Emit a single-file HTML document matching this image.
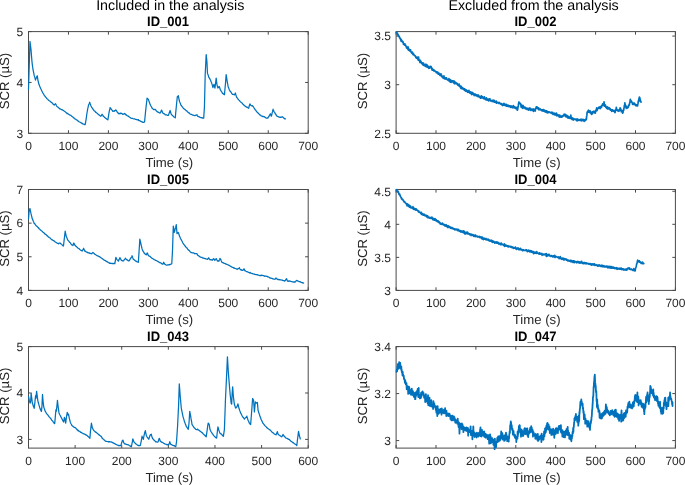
<!DOCTYPE html><html><head><meta charset="utf-8"><style>
html,body{margin:0;padding:0;background:#fff;}
svg{display:block;will-change:transform;}
text{font-family:"Liberation Sans",sans-serif;text-rendering:geometricPrecision;}
</style></head><body>
<svg width="685" height="485" viewBox="0 0 685 485">
<rect width="685" height="485" fill="#fff"/>
<rect x="28.5" y="31.6" width="279.7" height="101.7" fill="none" stroke="#4a4a4a" stroke-width="1"/>
<path d="M28.5,133.3v-3.1M28.5,31.6v3.1M68.46,133.3v-3.1M68.46,31.6v3.1M108.41,133.3v-3.1M108.41,31.6v3.1M148.37,133.3v-3.1M148.37,31.6v3.1M188.33,133.3v-3.1M188.33,31.6v3.1M228.29,133.3v-3.1M228.29,31.6v3.1M268.24,133.3v-3.1M268.24,31.6v3.1M308.2,133.3v-3.1M308.2,31.6v3.1M28.5,133.3h3.1M308.2,133.3h-3.1M28.5,82.45h3.1M308.2,82.45h-3.1M28.5,31.6h3.1M308.2,31.6h-3.1" stroke="#4a4a4a" stroke-width="1" fill="none"/>
<polyline points="28.5,89.44 29.3,63.73 29.99,41.49 30.1,42.21 30.9,48.71 30.99,49.42 31.7,58.36 31.99,61.84 32.5,65.97 32.99,69.33 33.3,70.94 34.1,74.84 34.24,75.7 34.9,77.62 35.49,80.06 35.7,79.24 36.48,77.4 36.5,77.32 37.23,75.78 37.3,75.87 37.98,80.67 38.1,80.83 38.9,84.25 38.98,84.32 39.7,86.28 40.48,88.1 40.5,88.28 41.3,89.72 42.1,91.63 42.23,91.66 42.9,93.09 43.7,94.16 44.5,95.79 44.72,95.79 45.3,96.74 46.1,97.47 46.9,98.79 47.7,99.16 48.47,100.24 48.5,100.09 49.3,100.82 50.1,101.3 50.9,102.11 51.7,102.48 52.21,103.16 52.5,103.24 53.3,104.3 54.1,104.58 54.21,105.07 54.9,104.12 55.46,103.68 55.7,103.89 56.5,105.72 56.71,106.07 57.3,106.76 58.1,107.28 58.9,108.1 59.7,108.77 59.7,108.97 60.5,108.95 61.3,109.55 62.1,109.65 62.2,109.84 62.9,110.15 63.7,110.76 64.5,111.2 64.69,111.4 65.3,111.81 66.1,112.63 66.9,113.16 67.19,113.62 67.7,113.45 68.5,114.29 69.3,114.65 70.1,115.21 70.9,115.46 70.93,115.61 71.7,116.15 72.5,116.81 73.3,117.37 74.1,118.26 74.68,118.41 74.9,118.93 75.7,119.24 76.5,119.98 77.3,120.07 78.1,121.27 78.42,121.07 78.9,121.76 79.7,122.03 80.5,122.56 81.3,122.79 82.1,123.54 82.17,123.37 82.9,123.88 83.7,124.07 84.5,124.61 85.16,124.56 85.3,124.18 85.91,120.33 86.1,119.37 86.9,113.52 87.16,111.99 87.7,108.9 88.41,105.81 88.5,105.32 89.3,103.48 89.66,102.24 90.1,103.57 90.41,104.18 90.9,105.78 91.4,106.8 91.7,107.42 92.5,108.44 93.3,109.7 93.4,109.76 94.1,110.64 94.9,111.22 95.7,112.24 95.9,112.11 96.5,112.97 97.3,113.24 98.1,114.28 98.89,114.65 98.9,114.97 99.7,115.41 100.5,116.01 100.89,116.27 101.3,115.66 102.1,114.23 102.14,114.5 102.9,115.36 103.39,116.39 103.7,116.46 104.5,117.4 105.3,117.8 105.38,118.15 106.1,118.47 106.9,119.23 107.7,119.65 107.88,119.85 108.5,115.81 109.13,112.11 109.3,111.06 110.1,107.83 110.13,107.5 110.9,108.76 111.38,109.27 111.7,109.87 112.5,110.58 112.62,111.26 113.3,111 114.1,111.33 114.62,110.7 114.9,110.89 115.7,109.97 115.87,109.95 116.5,110.81 117.12,111.94 117.3,111.99 118.1,112.99 118.86,113.8 118.9,113.92 119.7,113.33 120.5,113.59 120.86,112.99 121.3,113.4 122.1,113.75 122.86,114.46 122.9,114.19 123.7,114.22 124.5,113.51 124.61,113.59 125.3,114.1 125.85,114.96 126.1,114.75 126.9,115.58 127.7,115.79 128.35,116.34 128.5,116.3 129.3,117.05 130.1,117.51 130.85,118.11 130.9,118.04 131.7,118.42 132.5,118.42 133.3,118.79 133.34,118.78 134.1,118.98 134.9,118.92 135.7,119.43 135.84,119.27 136.5,119.64 137.3,119.73 138.1,120.09 138.34,119.65 138.9,120.56 139.7,120.52 140.5,121.21 140.83,121.27 141.3,121.63 142.1,121.84 142.9,122.47 143.33,122.38 143.7,122.43 144.5,121.68 144.58,121.93 145.3,114.22 145.82,109.35 146.1,106.49 146.9,99.81 147.07,98.09 147.7,98.74 148.32,99.17 148.5,99.84 149.3,102.04 150.07,104.34 150.1,104.28 150.9,105.98 151.7,107.16 152.07,108.37 152.5,108.42 153.3,109.31 153.81,109.61 154.1,109.8 154.9,109.33 155.31,109.59 155.7,109.85 156.31,111.07 156.5,110.92 157.3,111.84 158.1,111.97 158.31,112.35 158.9,112.43 159.7,113.01 160.3,112.99 160.5,112.72 161.3,110.48 161.55,110.06 162.1,111.23 162.8,113.11 162.9,113 163.7,113.64 164.5,113.95 165.3,114.93 165.8,114.8 166.1,114.93 166.9,114.93 167.7,115.43 168.29,115.46 168.5,115.1 169.3,112.68 170.04,110.61 170.1,110.53 170.9,113.25 171.29,114.29 171.7,114.73 172.5,115.46 173.28,116.35 173.3,116.29 174.1,117.17 174.9,117.27 175.28,117.9 175.7,112.91 176.28,106.97 176.5,104.64 177.28,97.01 177.3,96.67 178.1,96.14 178.28,95.6 178.9,98.69 179.28,100.55 179.7,101.88 180.5,103.78 180.77,104.83 181.3,105.44 182.1,106.65 182.9,107.51 183.27,108.18 183.7,108.44 184.5,109.26 185.3,109.78 186.1,110.69 186.9,110.87 187.01,111.43 187.7,111.85 188.5,112.77 189.3,112.96 190.1,114.02 190.76,114.24 190.9,114.4 191.7,114.46 192.5,115.1 193.3,115.11 194.1,115.46 194.5,115.53 194.9,115.67 195.7,115.18 196.5,115.06 197,114.76 197.3,115.85 197.46,115.99 198.1,116.56 198.9,116.6 199.7,117.22 199.96,117.24 200.5,117.52 201.3,117.59 202.1,118.08 202.45,117.9 202.9,118.15 203.7,117.96 203.7,118.1 204.45,106.81 204.5,104.81 205.2,74.31 205.3,72.55 206.1,56.35 206.2,54.52 206.9,61.4 206.95,61.96 207.45,73.04 207.7,73.9 208.5,76.08 208.69,77.15 209.3,77.9 210.1,79.35 210.44,79.85 210.9,81.18 211.7,83.02 211.94,83.92 212.5,85.76 212.94,87.7 213.3,86.19 213.94,84.45 214.1,84.8 214.9,88.01 214.93,88.08 215.7,82.09 216.18,78.12 216.5,80.91 216.93,84.32 217.3,85.85 217.93,88 218.1,87.94 218.9,86.73 219.18,86.37 219.7,87.76 220.43,90.16 220.5,89.93 221.3,91.41 222.1,92.48 222.42,93.34 222.9,93.51 223.7,94.24 224.42,94.75 224.5,94.3 225.3,85.3 225.42,84.37 226.1,75.19 226.17,74.71 226.9,79.13 226.92,79.78 227.7,84.02 228.16,86.92 228.5,87.39 229.3,89.81 229.91,90.55 230.1,91.21 230.9,92.05 231.7,93.41 232.41,94.25 232.5,94.38 233.3,94.44 234.1,94.79 234.41,94.83 234.9,94.21 235.4,92.96 235.7,94.25 236.4,96.6 236.5,97.1 237.3,98.01 238.1,99.25 238.65,99.8 238.9,100.1 239.7,100.83 240.5,102.01 241.15,102.23 241.3,102.54 242.1,103.05 242.9,104.19 243.64,104.82 243.7,104.98 244.5,105.5 245.3,106.32 246.1,106.69 246.14,106.9 246.9,107.13 247.7,107.64 248.5,107.77 248.64,108.3 249.3,105.74 249.88,103.96 250.1,104.07 250.9,105.49 251.13,105.52 251.7,105.83 252.5,105.72 253.13,106.62 253.3,106.55 254.1,108.08 254.88,109.16 254.9,109.5 255.7,110.15 256.5,111.55 257.3,112.16 257.37,112.42 258.1,112.98 258.9,113.94 259.7,114.52 259.87,115.06 260.5,115.12 261.3,115.95 262.1,116.14 262.36,116.51 262.9,116.43 263.7,116.68 264.36,116.52 264.5,116.93 265.3,117.4 266.1,118.08 266.11,117.99 266.9,118.17 267.7,117.79 267.86,118.08 268.5,116.87 269.3,115.79 269.35,115.48 270.1,114.46 270.35,113.73 270.9,115.18 271.35,116.22 271.7,115.02 272.35,112.13 272.5,111.76 273.1,109.2 273.3,109.9 273.85,111.12 274.1,111.79 274.9,112.71 275.35,113.99 275.7,114.13 276.5,115.63 277.3,116.17 277.34,116.41 278.1,116.59 278.9,117.05 279.7,117.07 279.84,117.32 280.5,117.15 281.3,117.27 282.1,116.74 282.34,116.93 282.9,117.17 283.7,117.98 283.83,117.94 284.5,118.75 285.3,118.71 285.33,118.94" fill="none" stroke="#0072BD" stroke-width="1.25" stroke-linejoin="round" stroke-linecap="round"/>
<text x="28.5" y="149.7" font-size="12.0" fill="#262626" text-anchor="middle">0</text>
<text x="68.46" y="149.7" font-size="12.0" fill="#262626" text-anchor="middle">100</text>
<text x="108.41" y="149.7" font-size="12.0" fill="#262626" text-anchor="middle">200</text>
<text x="148.37" y="149.7" font-size="12.0" fill="#262626" text-anchor="middle">300</text>
<text x="188.33" y="149.7" font-size="12.0" fill="#262626" text-anchor="middle">400</text>
<text x="228.29" y="149.7" font-size="12.0" fill="#262626" text-anchor="middle">500</text>
<text x="268.24" y="149.7" font-size="12.0" fill="#262626" text-anchor="middle">600</text>
<text x="308.2" y="149.7" font-size="12.0" fill="#262626" text-anchor="middle">700</text>
<text x="23.3" y="137.6" font-size="12.0" fill="#262626" text-anchor="end">3</text>
<text x="23.3" y="86.75" font-size="12.0" fill="#262626" text-anchor="end">4</text>
<text x="23.3" y="35.9" font-size="12.0" fill="#262626" text-anchor="end">5</text>
<text x="169.25" y="167.2" font-size="13.17" fill="#262626" text-anchor="middle">Time (s)</text>
<text transform="translate(9.3,81.05) rotate(-90)" font-size="13.17" fill="#262626" text-anchor="middle">SCR (µS)</text>
<text transform="translate(168.05,26.4) scale(1,1.05)" font-size="13.0" font-weight="bold" fill="#000" text-anchor="middle">ID_001</text>
<rect x="396.1" y="31.6" width="279.3" height="101.7" fill="none" stroke="#4a4a4a" stroke-width="1"/>
<path d="M396.1,133.3v-3.1M396.1,31.6v3.1M436,133.3v-3.1M436,31.6v3.1M475.9,133.3v-3.1M475.9,31.6v3.1M515.8,133.3v-3.1M515.8,31.6v3.1M555.7,133.3v-3.1M555.7,31.6v3.1M595.6,133.3v-3.1M595.6,31.6v3.1M635.5,133.3v-3.1M635.5,31.6v3.1M675.4,133.3v-3.1M675.4,31.6v3.1M396.1,133.3h3.1M675.4,133.3h-3.1M396.1,84.69h3.1M675.4,84.69h-3.1M396.1,36.07h3.1M675.4,36.07h-3.1" stroke="#4a4a4a" stroke-width="1" fill="none"/>
<polyline points="396.5,32.49 396.85,32.04 397.2,33.89 397.55,33.46 397.9,35.06 398.25,34.75 398.6,36.16 398.95,36.27 398.99,36.64 399.3,36.41 399.65,37.99 400,37.8 400.35,39.12 400.7,38.75 401.05,41.03 401.4,39.84 401.49,41.21 401.75,40.71 402.1,41.65 402.45,41.14 402.8,42.35 403.15,41.87 403.5,44.51 403.85,43.72 403.99,44.2 404.2,44.16 404.55,45.06 404.9,43.88 405.25,45.42 405.6,45.05 405.95,46.38 406.3,46.37 406.48,48.02 406.65,46.96 407,48.2 407.35,47.82 407.7,48.89 408.05,46.82 408.4,50.06 408.75,48.68 408.98,50.4 409.1,50.03 409.45,50.49 409.8,50.1 410.15,51.2 410.5,49.74 410.85,51.85 411.2,51.8 411.47,52.66 411.55,52.42 411.9,53.2 412.25,52.11 412.6,54 412.95,53.13 413.3,54.7 413.65,54.01 413.97,55.11 414,54.69 414.35,55.39 414.7,55.35 415.05,56.02 415.4,55.84 415.75,57.2 416.1,57.04 416.45,58.2 416.47,57.3 416.8,57.96 417.15,57.1 417.5,58.96 417.85,58.29 418.2,60.04 418.55,57.08 418.9,60.31 418.96,59.59 419.25,60.66 419.6,60.14 419.95,62.51 420.3,60.45 420.65,62 421,61.51 421.35,63.04 421.46,62.43 421.7,63.2 422.05,62.72 422.4,64.25 422.75,63.13 423.1,65.04 423.45,63.03 423.8,64.67 423.96,64.31 424.15,65.54 424.5,64.52 424.85,65.46 425.2,65.14 425.55,66.42 425.9,64.02 426.25,66.54 426.45,65.52 426.6,66.79 426.95,64.89 427.3,67.06 427.65,65.56 428,66.91 428.35,66.69 428.7,68.28 428.95,67.25 429.05,68.11 429.4,66.98 429.75,68.08 430.1,66.26 430.45,66.81 430.8,66.42 430.95,66.9 431.15,66.65 431.5,67.99 431.85,68.14 431.94,69.97 432.2,68.7 432.55,70.23 432.9,69.22 433.25,70.36 433.6,69.8 433.94,70.97 433.95,69.91 434.3,70.84 434.65,70.82 435,71.28 435.35,71.16 435.7,71.83 436.05,71.64 436.4,72.69 436.44,71.87 436.75,72.75 437.1,72 437.45,72.86 437.8,72.19 438.15,74.09 438.5,73.37 438.85,74.24 438.93,73 439.2,74.38 439.55,73.71 439.9,75.4 440.25,74.25 440.6,75.24 440.95,73.77 441.3,76.11 441.43,74.9 441.65,76.55 442,75.96 442.35,76.99 442.7,76.51 443.05,77.99 443.4,76.67 443.75,77.65 443.93,75.79 444.1,78.64 444.45,77.36 444.8,78.8 445.15,77.93 445.5,79.03 445.85,77.84 446.2,78.81 446.42,77.79 446.55,79.21 446.9,79 447.25,79.71 447.6,79.28 447.95,80.06 448.3,79.56 448.65,80.63 448.92,78.68 449,80.39 449.35,80.09 449.7,81.67 450.05,79.54 450.4,82.08 450.75,80.04 451.1,82.36 451.42,80.47 451.45,81.66 451.8,80.76 452.15,81.35 452.5,80.87 452.85,82.08 453.2,81.01 453.55,82.79 453.9,80.91 453.91,83 454.25,81.29 454.6,83.78 454.95,82.2 455.3,83.52 455.65,82.43 456,83.3 456.35,83.08 456.41,83.94 456.7,83.19 457.05,83.87 457.4,83.52 457.75,85.19 458.1,84.45 458.45,85.49 458.8,85.13 458.91,85.77 459.15,84.15 459.5,86.42 459.85,85.47 460.2,86.94 460.55,86.37 460.9,88.37 461.25,86.26 461.4,87.46 461.6,87.09 461.95,88.73 462.3,87.68 462.65,88.81 463,88.19 463.35,89.22 463.7,88.46 463.9,89.06 464.05,88.81 464.4,90.31 464.75,88.89 465.1,90.04 465.45,89.58 465.8,91.23 466.15,89.76 466.39,90.66 466.5,90 466.85,90.78 467.2,90.65 467.55,92.29 467.9,91.16 468.25,91.89 468.6,91.14 468.89,92.37 468.95,90.37 469.3,92.28 469.65,92.13 470,93.22 470.35,91.85 470.7,93.32 471.05,92.06 471.39,93.98 471.4,92.39 471.75,94.55 472.1,92.46 472.45,93.87 472.8,92.9 473.15,94.23 473.5,93.76 473.85,94.58 473.88,93.7 474.2,95.59 474.55,94.54 474.9,95.23 475.25,94.13 475.6,95.17 475.95,94.8 476.3,95.94 476.38,95.27 476.65,95.47 477,94.69 477.35,96.01 477.7,95.8 478.05,96.57 478.4,95 478.75,96.72 478.88,96.31 479.1,96.9 479.45,96.42 479.8,97.13 480.15,96.55 480.5,98.25 480.85,96.81 481.2,97.87 481.37,95.97 481.55,97.64 481.9,96.36 482.25,97.79 482.6,96.78 482.95,97.96 483.3,97.62 483.65,98.63 483.87,97.63 484,98.14 484.35,96.84 484.7,98.77 485.05,98.27 485.4,99.66 485.75,98.61 486.1,99.61 486.36,97.83 486.45,99.13 486.8,98.67 487.15,100.23 487.5,99.05 487.85,99.87 488.2,99.39 488.55,100.81 488.86,99.13 488.9,99.77 489.25,99.23 489.6,100.06 489.95,98.78 490.3,100.8 490.65,100.34 491,100.61 491.35,100.6 491.36,100.93 491.7,100.47 492.05,101.3 492.4,100.54 492.75,101.54 493.1,100 493.45,101.5 493.8,100.74 493.85,101.9 494.15,100.45 494.5,102.06 494.85,101.37 495.2,102.2 495.55,102 495.9,102.39 496.25,101.07 496.35,103.21 496.6,102.12 496.95,102.73 497.3,102.29 497.65,102.81 498,102.54 498.35,103.02 498.7,102.95 498.85,103.43 499.05,102.39 499.4,103.4 499.75,103.37 500.1,103.66 500.45,103.29 500.8,104.07 501.15,103.57 501.34,104.58 501.5,103.58 501.85,104.68 502.2,104.11 502.55,105.53 502.9,104.16 503.25,105.13 503.6,103.89 503.84,105.11 503.95,103.3 504.3,105.15 504.65,104.04 505,105.42 505.35,104.28 505.7,105.52 506.05,104.53 506.34,106.15 506.4,104.28 506.75,106.02 507.1,105.11 507.45,106.11 507.8,105.26 508.15,106.42 508.5,105.35 508.83,105.94 508.85,105.61 509.2,106.63 509.55,105.91 509.9,106.47 510.25,106.15 510.6,107.36 510.95,105.92 511.3,106.86 511.33,106.29 511.65,107.04 512,106.31 512.35,107.73 512.7,106.79 513.05,107.78 513.4,105.71 513.75,107.29 513.82,106.84 514.1,107.62 514.45,106.87 514.8,107.84 515.15,107.13 515.5,108.28 515.85,107.44 516.2,108.75 516.32,107.85 516.55,108.75 516.9,107.39 517.25,110.17 517.57,109.07 517.6,109.77 517.95,107.3 518.3,105.92 518.65,102.98 518.82,103.06 519,101.97 519.35,103.24 519.7,102.81 519.82,103.03 520.05,103.05 520.4,104.25 520.75,103.83 521.1,107.16 521.31,105.48 521.45,105.76 521.8,105.12 522.15,107.8 522.5,106.24 522.85,108.34 523.2,105.66 523.55,107.47 523.81,107.09 523.9,107.62 524.25,107.18 524.6,107.88 524.95,107.08 525.3,108.7 525.65,108.1 526,108.96 526.31,108.22 526.35,108.81 526.7,108.47 527.05,109.47 527.4,108.41 527.75,109.49 528.1,108.4 528.45,110.15 528.8,109.13 528.8,109.74 529.15,108.82 529.5,109.8 529.85,107.85 530.2,109.6 530.55,109.04 530.9,110.43 531.25,109.17 531.3,109.78 531.6,109.29 531.95,109.96 532.3,109.22 532.65,110.13 533,109.15 533.35,111.4 533.7,109.15 533.8,110.36 534.05,109.53 534.4,110.19 534.75,109.44 535.1,111.17 535.29,109.33 535.45,109.72 535.8,107.96 536.15,107.87 536.29,106.82 536.5,107.45 536.85,106.83 537.2,108.39 537.54,107.85 537.55,108.36 537.9,107.76 538.25,108.94 538.6,107.86 538.95,109.81 539.3,108.82 539.65,109.56 540,109.22 540.04,109.66 540.35,108.96 540.7,109.89 541.05,109.72 541.4,110.05 541.75,109.86 542.1,110.94 542.45,109.82 542.53,111 542.8,110 543.15,110.83 543.5,109.66 543.85,111.26 544.2,110.16 544.55,111.1 544.9,110.83 545.03,111.96 545.25,110.52 545.6,111.52 545.95,110.85 546.3,112.43 546.65,110.79 547,111.96 547.35,111.59 547.53,112.88 547.7,111.48 548.05,112.38 548.4,111.78 548.75,112.5 549.1,111.83 549.45,112.45 549.8,112.3 550.02,112.55 550.15,112.28 550.5,112.82 550.85,112.73 551.2,112.9 551.55,112.23 551.9,113.47 552.25,113.06 552.52,113.75 552.6,112.3 552.95,114.46 553.3,113.01 553.65,114.27 554,113.66 554.35,114.2 554.7,113.22 555.01,115.21 555.05,114.3 555.4,114.53 555.75,113.92 556.1,114.74 556.45,113 556.8,116 557.15,114.74 557.5,115.1 557.51,114.62 557.85,115.41 558.2,115.02 558.55,115.77 558.9,115.16 559.25,117.2 559.6,115.17 559.95,116.97 560.01,115.41 560.3,116.65 560.65,116.24 561,117.09 561.35,116.01 561.7,117.03 561.75,116.45 562.05,117 562.4,115.83 562.75,116 563.1,115.43 563.25,116.03 563.45,115.17 563.8,115.81 564.15,114.14 564.5,115.26 564.85,114.54 565,115.33 565.2,114.42 565.55,116.65 565.9,115.44 566.25,116.58 566.6,115.15 566.95,117.04 567.3,115.99 567.65,117.9 567.67,115.99 568,117.05 568.35,116.52 568.7,118.17 569.05,116.85 569.4,118.14 569.75,117.47 570.1,118.4 570.17,117.02 570.45,118.32 570.8,115.17 571.15,118.28 571.5,117.27 571.85,119.35 572.2,117.84 572.55,118.98 572.9,118.36 573.25,120.02 573.6,118.67 573.91,118.99 573.95,118.77 574.3,119.03 574.65,119 575,119.55 575.35,119.15 575.7,119.44 576.05,119.13 576.4,120.28 576.75,119.06 577.1,120.94 577.45,119.22 577.66,120.57 577.8,119.09 578.15,120.05 578.5,119.84 578.85,120.4 579.2,119.88 579.55,120.12 579.9,119.55 580.25,120.48 580.6,119.39 580.95,120.38 581.3,119.24 581.4,120.88 581.65,119.83 582,120.35 582.35,120.01 582.7,120.5 583.05,119.22 583.4,120.4 583.75,119.9 584.1,121.38 584.45,119.81 584.8,120.82 585.15,119.58 585.15,120.65 585.5,119.69 585.85,119.98 586.2,119.41 586.39,119.34 586.55,117.02 586.9,115.18 587.14,112.01 587.25,112.44 587.6,111.46 587.95,111.85 588.3,110.29 588.39,112.25 588.65,110.29 589,111.74 589.35,111.65 589.7,112.24 590.05,110.77 590.14,112.9 590.4,112.32 590.75,112.73 591.1,112.42 591.45,114.3 591.8,112.79 591.89,113.16 592.15,111.83 592.5,113.77 592.85,111.97 593.2,112.62 593.38,111.42 593.55,112.12 593.9,111.39 594.25,112.46 594.6,111.67 594.95,113.06 595.13,111.33 595.3,113.16 595.65,110.41 596,111.12 596.35,109.12 596.38,110.64 596.7,107.84 597.05,110.61 597.4,108.74 597.75,108.73 598.1,108.1 598.38,108.45 598.45,107.68 598.8,108.06 599.15,106.9 599.5,107.69 599.85,107.44 600.12,108.6 600.2,107.27 600.55,108.09 600.9,106.26 601.25,107.48 601.37,106.43 601.6,107.12 601.95,105.25 602.3,105.27 602.62,103.97 602.65,105.23 603,104.12 603.35,105.37 603.7,104.12 603.87,105.21 604.05,101.73 604.4,106.27 604.75,105.24 605.1,106.33 605.45,104.98 605.8,107.28 605.87,106.6 606.15,107.05 606.5,107.18 606.85,108.42 607.2,106.99 607.55,108.06 607.61,107.12 607.9,109.02 608.25,107.94 608.6,108.59 608.95,107.55 609.3,108.98 609.65,108.64 610,109.4 610.11,108.48 610.35,110.21 610.7,109.3 611.05,110.15 611.4,109.82 611.75,111.36 612.1,109.91 612.45,110.72 612.61,109.82 612.8,110.94 613.15,110.68 613.5,111.09 613.85,110.55 614.2,111.57 614.55,111.17 614.9,112.59 615.1,111.66 615.25,112.03 615.6,109.64 615.95,110.3 616.3,107.3 616.35,109.47 616.65,108.78 617,109.82 617.35,110.04 617.6,110.67 617.7,110.15 618.05,110.99 618.4,110.09 618.75,111.29 618.85,110.81 619.1,111.04 619.45,109.77 619.8,110.21 620.09,107.8 620.15,109.26 620.5,108.32 620.85,110.5 621.2,110.93 621.34,111.75 621.55,110.18 621.9,111.91 622.25,111.01 622.6,113.1 622.84,112.78 622.95,112.78 623.3,110.37 623.65,110.41 623.84,108.52 624,108.49 624.35,105.57 624.7,104.77 624.84,102.81 625.05,104.17 625.4,104.9 625.75,106.8 625.84,106.38 626.1,108 626.45,106.36 626.8,108.27 626.84,107.5 627.15,108.32 627.5,107.02 627.85,107.7 628.2,106.58 628.33,107.17 628.55,105.2 628.9,105.84 629.25,104.59 629.33,105.04 629.6,103.09 629.95,102.28 630.3,99.25 630.33,101.04 630.65,100.35 631,101.72 631.33,101.05 631.35,101.9 631.7,101.53 632.05,102.81 632.4,102.77 632.58,104.45 632.75,103.06 633.1,104.5 633.45,103.04 633.8,103.84 634.15,103.05 634.5,104.29 634.85,104 635.07,104.87 635.2,104.08 635.55,105.66 635.9,104.67 636.25,105.13 636.6,104.99 636.95,105.97 637.3,105.1 637.57,105.9 637.65,104.66 638,103.71 638.35,100.98 638.7,101.14 638.82,99.26 639.05,98.68 639.4,97.05 639.57,97.51 639.75,97.59 640.1,99.56 640.32,99.47 640.45,101.51 640.8,101.4 641.06,102.08" fill="none" stroke="#0072BD" stroke-width="1.7" stroke-linejoin="round" stroke-linecap="round"/>
<text x="396.1" y="149.7" font-size="12.0" fill="#262626" text-anchor="middle">0</text>
<text x="436" y="149.7" font-size="12.0" fill="#262626" text-anchor="middle">100</text>
<text x="475.9" y="149.7" font-size="12.0" fill="#262626" text-anchor="middle">200</text>
<text x="515.8" y="149.7" font-size="12.0" fill="#262626" text-anchor="middle">300</text>
<text x="555.7" y="149.7" font-size="12.0" fill="#262626" text-anchor="middle">400</text>
<text x="595.6" y="149.7" font-size="12.0" fill="#262626" text-anchor="middle">500</text>
<text x="635.5" y="149.7" font-size="12.0" fill="#262626" text-anchor="middle">600</text>
<text x="675.4" y="149.7" font-size="12.0" fill="#262626" text-anchor="middle">700</text>
<text x="390.9" y="137.6" font-size="12.0" fill="#262626" text-anchor="end">2.5</text>
<text x="390.9" y="88.99" font-size="12.0" fill="#262626" text-anchor="end">3</text>
<text x="390.9" y="40.37" font-size="12.0" fill="#262626" text-anchor="end">3.5</text>
<text x="536.65" y="167.2" font-size="13.17" fill="#262626" text-anchor="middle">Time (s)</text>
<text transform="translate(366.7,81.05) rotate(-90)" font-size="13.17" fill="#262626" text-anchor="middle">SCR (µS)</text>
<text transform="translate(535.45,26.4) scale(1,1.05)" font-size="13.0" font-weight="bold" fill="#000" text-anchor="middle">ID_002</text>
<rect x="28.5" y="189.5" width="279.7" height="100.9" fill="none" stroke="#4a4a4a" stroke-width="1"/>
<path d="M28.5,290.4v-3.1M28.5,189.5v3.1M68.46,290.4v-3.1M68.46,189.5v3.1M108.41,290.4v-3.1M108.41,189.5v3.1M148.37,290.4v-3.1M148.37,189.5v3.1M188.33,290.4v-3.1M188.33,189.5v3.1M228.29,290.4v-3.1M228.29,189.5v3.1M268.24,290.4v-3.1M268.24,189.5v3.1M308.2,290.4v-3.1M308.2,189.5v3.1M28.5,290.4h3.1M308.2,290.4h-3.1M28.5,256.77h3.1M308.2,256.77h-3.1M28.5,223.13h3.1M308.2,223.13h-3.1M28.5,189.5h3.1M308.2,189.5h-3.1" stroke="#4a4a4a" stroke-width="1" fill="none"/>
<polyline points="28.5,218.89 29.25,209.33 29.3,209.47 29.99,208.56 30.1,209.28 30.9,213.03 30.99,213.68 31.7,216.36 32.24,218.75 32.5,219.08 33.3,221.3 33.99,222.78 34.1,223.38 34.9,223.83 35.7,225.26 35.99,225.28 36.5,226.2 37.3,226.53 38.1,227.63 38.48,227.6 38.9,228.68 39.7,229.04 40.5,230.18 40.98,230.28 41.3,230.76 42.1,231.21 42.9,232.23 43.7,232.63 44.5,233.59 44.72,233.38 45.3,234.46 46.1,234.69 46.9,235.64 47.7,236.1 48.47,237.04 48.5,236.89 49.3,237.55 50.1,238.01 50.9,238.92 51.7,239.43 52.21,240.01 52.5,239.89 53.3,240.66 54.1,240.9 54.9,241.74 55.7,242.13 55.96,242.41 56.5,242.56 57.3,243.41 58.1,243.36 58.45,243.75 58.9,243.3 59.7,243 59.95,242.85 60.5,243.68 61.3,244.06 61.45,244.37 62.1,244.88 62.9,245.74 63.45,246.06 63.7,244.01 64.44,237.37 64.5,237.08 65.19,231.09 65.3,231.78 66.1,235.62 66.19,236.31 66.9,237.77 67.69,240.17 67.7,239.88 68.5,240.89 69.3,241.69 69.69,242.43 70.1,242.52 70.9,244 71.43,244.34 71.7,244.82 72.5,245.02 72.93,245.47 73.3,244.11 73.68,243.08 74.1,243.45 74.68,245.05 74.9,244.89 75.7,246.1 76.5,246.55 77.18,247.42 77.3,247.35 78.1,248.26 78.9,248.5 79.67,249.42 79.7,249.34 80.5,250.14 81.3,250.38 82.1,251.09 82.17,250.84 82.9,249.91 83.67,248.27 83.7,248.79 84.5,250.24 84.91,251.25 85.3,251.06 86.1,251.86 86.9,252.11 87.16,252.53 87.7,252.38 88.5,252.96 89.3,252.96 89.66,253.32 90.1,253.15 90.9,253.72 91.4,253.64 91.7,253.81 92.5,252.68 92.9,252.41 93.3,252.7 94.1,253.6 94.65,254.02 94.9,254.38 95.7,254.66 96.5,255.41 97.15,255.55 97.3,255.91 98.1,255.85 98.9,256.61 99.64,256.67 99.7,256.96 100.5,257.31 101.3,258.03 102.1,258.51 102.14,258.63 102.9,259.03 103.7,259.86 104.5,260.17 104.64,260.39 105.3,260.51 106.1,261.28 106.9,261.47 107.13,261.83 107.7,261.97 108.5,262.71 109.3,262.86 109.63,263.3 110.1,263.09 110.9,263.42 111.7,263.38 112.12,263.68 112.5,263.45 113.3,263.62 114.1,263.4 114.87,263.7 114.9,263.4 115.7,258.48 115.87,257.29 116.5,258.66 116.87,259.3 117.3,259.9 118.1,260.56 118.36,261.2 118.9,259.89 119.7,258.3 119.86,257.61 120.5,258.9 121.3,260.19 121.36,260.34 122.1,260.53 122.9,261.11 123.36,260.98 123.7,260.72 124.5,259.29 125.3,259.02 125.35,258.2 126.1,259.19 126.9,259.57 127.1,260.05 127.7,260.22 128.5,260.97 128.85,260.99 129.3,260.59 130.1,259.18 130.85,258.18 130.9,257.82 131.7,257.11 132.09,255.73 132.5,257.25 133.3,259.16 133.34,259.36 134.1,259.68 134.9,260.51 135.7,260.91 135.84,261.42 136.5,261.37 137.3,261.94 138.1,262.05 138.34,262.35 138.84,254.79 138.9,254.03 139.7,241.05 139.83,239.04 140.5,241.95 140.83,243.74 141.3,245.55 142.1,248.91 142.33,249.73 142.9,250.94 143.7,252.04 144.5,253.65 144.58,253.53 145.3,254.12 146.1,254.61 146.32,254.86 146.9,253.54 147.32,252.93 147.7,253.77 148.32,255.53 148.5,255.37 149.3,256.2 150.1,256.44 150.82,257.39 150.9,257.35 151.7,258.08 152.5,258.35 153.3,259.15 153.81,259.24 154.1,259.54 154.9,259.79 155.7,260.46 156.5,260.59 157.06,261.1 157.3,261.1 158.1,261.68 158.9,262.06 159.7,262.67 160.3,262.64 160.5,262.99 161.3,263.2 162.1,263.94 162.8,264.29 162.9,264.18 163.7,262.23 163.8,262.59 164.5,263.64 164.8,264.35 165.3,264.37 166.1,265.16 166.54,265.24 166.9,265.25 167.7,264.76 168.5,264.9 168.79,264.67 169.3,264.86 170.1,264.36 170.79,264.38 170.9,264.18 171.7,263.79 171.79,263.57 172.5,250.62 172.54,249.7 173.28,226.31 173.3,226.07 174.1,231.49 174.28,232.35 174.9,230.23 175.28,228.41 175.7,227.18 176.28,224.67 176.5,227.59 177.03,233.6 177.3,233.37 178.1,232.42 178.28,232.5 178.9,234.21 179.53,236.27 179.7,236.38 180.5,238.53 181.27,239.67 181.3,239.96 182.1,241.29 182.9,242.98 183.27,243.56 183.7,244.28 184.5,245.08 185.3,246.31 185.77,246.71 186.1,247.54 186.9,247.93 187.7,249.19 188.26,249.74 188.5,250.11 189.3,250.58 190.1,251.75 190.76,252.09 190.9,252.55 191.7,252.52 192.5,252.81 193.26,252.75 193.3,252.96 194.1,253.2 194.5,253.75 194.9,253.54 195.7,253.72 196.5,253.58 197,253.72 197.3,254.39 197.46,255.08 198.1,255.35 198.9,256.08 199.7,256.4 199.96,256.95 200.5,257.02 201.3,257.47 202.1,257.31 202.45,258 202.9,257.8 203.7,258.33 204.5,258.43 204.95,258.6 205.3,258.63 206.1,258.95 206.9,259.06 207.45,259.43 207.7,258.96 208.5,258.2 208.69,257.76 209.3,259 209.94,259.6 210.1,259.89 210.9,259.54 211.7,260.05 212.44,259.81 212.5,260.08 213.3,258.79 213.69,258.7 214.1,259.09 214.9,260.53 214.93,260.19 215.7,259.31 216.18,258.58 216.5,259.28 217.3,260.78 217.43,261.16 218.1,260.97 218.9,261.22 218.93,261.01 219.7,259.28 219.93,258.41 220.5,259.25 220.68,259.19 221.3,260.99 221.92,262.28 222.1,262.47 222.9,262.64 223.7,263.1 224.5,263.29 224.92,263.64 225.3,263.62 226.1,264.16 226.9,264.37 227.7,264.79 227.92,264.76 228.5,265.16 229.3,265.32 230.1,266.12 230.9,266.36 231.16,266.8 231.7,266.8 232.5,267.45 233.3,267.5 234.1,268.26 234.41,268.01 234.9,268.35 235.7,268.51 236.5,269.06 237.3,268.98 237.4,269.33 238.1,268.78 238.9,268.2 239.4,267.77 239.7,268.44 240.4,269.81 240.5,269.9 241.3,269.65 242.1,270.45 242.89,270.07 242.9,270.41 243.7,269.16 244.14,268.87 244.5,269.73 244.89,270.89 245.3,270.78 246.1,271.35 246.9,271.59 247.39,271.85 247.7,271.91 248.5,272.31 249.3,272.56 249.88,273.09 250.1,272.31 250.9,273.14 251.7,273.32 252.38,273.63 252.5,273.56 253.3,273.9 254.1,274.07 254.88,274.38 254.9,274.25 255.7,274.55 256.5,274.55 257.3,274.81 257.37,274.67 258.1,275.17 258.9,275.22 259.7,275.67 259.87,275.51 260.5,275.63 261.3,275.12 262.1,275.69 262.36,275.28 262.9,275.5 263.7,275.69 264.5,276.32 264.86,275.94 265.3,276.19 266.1,276.09 266.9,276.46 267.36,276.33 267.7,276.86 268.5,276.89 269.3,277.58 269.85,277.68 270.1,278.08 270.9,278 271.7,278.49 272.35,278.49 272.5,278.8 273.3,278.79 274.1,279.09 274.85,279.26 274.9,279.45 275.7,278.1 276.09,278.15 276.5,278.29 277.3,279.4 277.34,279.22 278.1,279.69 278.9,279.43 279.7,279.84 279.84,279.69 280.5,279.97 281.3,279.97 282.1,280.27 282.34,280.12 282.9,280.53 283.7,280.55 284.5,281.09 284.83,281.02 285.3,280.5 286.1,279.18 286.58,278.73 286.9,279.43 287.33,281.06 287.7,280.91 288.5,281.32 289.3,280.87 289.82,281.18 290.1,281.1 290.9,281.41 291.7,281.55 292.32,281.79 292.5,281.81 293.3,282.1 294.1,281.71 294.82,282.3 294.9,282.04 295.7,281.39 296.5,280.35 296.56,280.38 297.3,280.68 297.81,281.09 298.1,281.03 298.9,281.56 299.7,281.51 299.81,281.94 300.5,281.74 301.3,282.4 302.1,282.51 302.31,282.94 302.9,282.64 303.55,283.1" fill="none" stroke="#0072BD" stroke-width="1.25" stroke-linejoin="round" stroke-linecap="round"/>
<text x="28.5" y="306.8" font-size="12.0" fill="#262626" text-anchor="middle">0</text>
<text x="68.46" y="306.8" font-size="12.0" fill="#262626" text-anchor="middle">100</text>
<text x="108.41" y="306.8" font-size="12.0" fill="#262626" text-anchor="middle">200</text>
<text x="148.37" y="306.8" font-size="12.0" fill="#262626" text-anchor="middle">300</text>
<text x="188.33" y="306.8" font-size="12.0" fill="#262626" text-anchor="middle">400</text>
<text x="228.29" y="306.8" font-size="12.0" fill="#262626" text-anchor="middle">500</text>
<text x="268.24" y="306.8" font-size="12.0" fill="#262626" text-anchor="middle">600</text>
<text x="308.2" y="306.8" font-size="12.0" fill="#262626" text-anchor="middle">700</text>
<text x="23.3" y="294.7" font-size="12.0" fill="#262626" text-anchor="end">4</text>
<text x="23.3" y="261.07" font-size="12.0" fill="#262626" text-anchor="end">5</text>
<text x="23.3" y="227.43" font-size="12.0" fill="#262626" text-anchor="end">6</text>
<text x="23.3" y="193.8" font-size="12.0" fill="#262626" text-anchor="end">7</text>
<text x="169.25" y="324.3" font-size="13.17" fill="#262626" text-anchor="middle">Time (s)</text>
<text transform="translate(9.3,238.55) rotate(-90)" font-size="13.17" fill="#262626" text-anchor="middle">SCR (µS)</text>
<text transform="translate(168.05,183.7) scale(1,1.05)" font-size="13.0" font-weight="bold" fill="#000" text-anchor="middle">ID_005</text>
<rect x="396.1" y="189.5" width="279.3" height="100.9" fill="none" stroke="#4a4a4a" stroke-width="1"/>
<path d="M396.1,290.4v-3.1M396.1,189.5v3.1M436,290.4v-3.1M436,189.5v3.1M475.9,290.4v-3.1M475.9,189.5v3.1M515.8,290.4v-3.1M515.8,189.5v3.1M555.7,290.4v-3.1M555.7,189.5v3.1M595.6,290.4v-3.1M595.6,189.5v3.1M635.5,290.4v-3.1M635.5,189.5v3.1M675.4,290.4v-3.1M675.4,189.5v3.1M396.1,290.4h3.1M675.4,290.4h-3.1M396.1,257.36h3.1M675.4,257.36h-3.1M396.1,224.32h3.1M675.4,224.32h-3.1M396.1,191.28h3.1M675.4,191.28h-3.1" stroke="#4a4a4a" stroke-width="1" fill="none"/>
<polyline points="396.5,190.14 396.85,189.5 397.2,191.31 397.55,191.03 397.74,192.05 397.9,191.26 398.25,192.58 398.6,192.63 398.95,194.37 398.99,193.31 399.3,194.61 399.65,193.93 400,195.87 400.24,195.23 400.35,196.34 400.7,196.77 401.05,197.87 401.4,197.68 401.49,198.88 401.75,198.31 402.1,199.39 402.45,199.09 402.8,199.95 403.15,199.84 403.5,201.08 403.85,200.98 403.99,201.84 404.2,201.29 404.55,202.26 404.9,201.84 405.25,202.89 405.6,202.98 405.95,203.66 406.3,203.27 406.48,204.32 406.65,203.89 407,205.83 407.35,203.78 407.7,205.32 408.05,204.95 408.4,206.34 408.75,204.52 408.98,206.45 409.1,205.45 409.45,207.16 409.8,205.75 410.15,207.27 410.5,206.01 410.85,207.91 411.2,207.26 411.47,207.95 411.55,207.19 411.9,207.94 412.25,207.37 412.6,208.32 412.95,206.54 413.3,209.21 413.65,207.9 413.97,208.99 414,208.06 414.35,209.6 414.7,208.54 415.05,209.13 415.4,208.89 415.75,210.14 416.1,208.87 416.45,210.02 416.47,209.15 416.8,210.23 417.15,209.99 417.5,210.59 417.85,210.42 418.2,211.55 418.55,211.26 418.9,212.27 418.96,211.12 419.25,212.38 419.6,211.98 419.95,212.51 420.3,212.26 420.65,213.26 421,212.65 421.35,214.35 421.46,212.42 421.7,214.21 422.05,213.4 422.4,214.38 422.75,214.18 423.1,215.22 423.45,214.43 423.8,215.18 423.96,213.98 424.15,215.15 424.5,214.52 424.85,215.8 425.2,214.9 425.55,216.01 425.9,215.57 426.25,216.1 426.45,215.28 426.6,216.88 426.95,215.63 427.3,216.91 427.65,215.82 428,217.94 428.35,216.91 428.7,217.76 428.95,217.03 429.05,217.56 429.4,217.29 429.75,218.09 430.1,217.48 430.45,218.36 430.8,217.47 431.15,218.28 431.45,218.16 431.5,218.51 431.85,217.01 432.2,218.91 432.55,218.09 432.9,219.72 433.25,218.24 433.6,219.9 433.94,218.94 433.95,219.85 434.3,218.94 434.65,220.27 435,218.64 435.35,220.13 435.7,219.16 436.05,220.96 436.4,219.69 436.44,220.76 436.75,220.64 437.1,221.53 437.45,220.79 437.8,221.84 438.15,220.85 438.5,222.09 438.85,221.96 438.93,222.57 439.2,221.65 439.55,222.96 439.9,222.33 440.25,224.01 440.6,223.16 440.95,224.21 441.3,223.62 441.43,223.9 441.65,223.68 442,224.51 442.35,222.94 442.7,224.51 443.05,224.28 443.4,225.03 443.75,224.14 443.93,225.03 444.1,224.53 444.45,225.29 444.8,224.64 445.15,226.25 445.5,225.23 445.85,225.68 446.2,224.65 446.42,226.43 446.55,225.52 446.9,226.47 447.25,225.93 447.6,227.53 447.95,225.56 448.3,227.09 448.65,226.05 448.92,227.42 449,226.87 449.35,227.41 449.7,226.64 450.05,227.78 450.4,227.14 450.75,228.32 451.1,227.33 451.42,228.06 451.45,227.51 451.8,228.49 452.15,227.56 452.5,228.67 452.85,227.98 453.2,228.62 453.55,228.23 453.9,229.28 453.91,228.45 454.25,229.09 454.6,228.82 454.95,230.01 455.3,228.99 455.65,229.71 456,229.06 456.35,229.68 456.41,229.16 456.7,229.63 457.05,229.45 457.4,230.64 457.75,229.34 458.1,230.05 458.45,229.37 458.8,230.9 458.91,230.15 459.15,231.13 459.5,230.4 459.85,230.78 460.2,230.53 460.55,231.99 460.9,230.9 461.25,232.02 461.4,231.1 461.6,231.71 461.95,231.05 462.3,232.16 462.65,231.3 463,232.38 463.35,230.7 463.7,232.29 463.9,232.18 464.05,233.11 464.4,231.35 464.75,233.95 465.1,232.55 465.45,233.98 465.8,232.26 466.15,233.05 466.39,232.17 466.5,233.34 466.85,233.19 467.2,233.76 467.55,232.13 467.9,234 468.25,233.04 468.6,233.95 468.89,233.68 468.95,234.08 469.3,233.72 469.65,234.74 470,233.74 470.35,234.54 470.7,234.44 471.05,235.47 471.39,234.31 471.4,234.71 471.75,234.36 472.1,235.38 472.45,234.68 472.8,235.22 473.15,234.86 473.5,235.95 473.85,235.13 473.88,236.46 474.2,235.33 474.55,236.36 474.9,235.13 475.25,235.84 475.6,235.06 475.95,236.75 476.3,235.94 476.38,236.2 476.65,236.04 477,236.42 477.35,236.14 477.7,237.09 478.05,236.41 478.4,236.93 478.75,236.86 478.88,236.87 479.1,236.58 479.45,237.59 479.8,236.41 480.15,237.32 480.5,237.15 480.85,237.79 481.2,236.93 481.37,238.07 481.55,237.68 481.9,238.86 482.25,237.03 482.6,238.42 482.95,238.17 483.3,239.64 483.65,237.99 483.87,239.2 484,238.32 484.35,238.69 484.7,238.26 485.05,239.29 485.4,238.94 485.75,239.73 486.1,238.44 486.36,239.39 486.45,239.31 486.8,239.93 487.15,239.44 487.5,239.81 487.85,239.09 488.2,240.34 488.55,239.42 488.86,240.63 488.9,240.15 489.25,240.44 489.6,240.09 489.95,241.25 490.3,240.68 490.65,240.84 491,240.06 491.35,241.25 491.36,240.77 491.7,241.73 492.05,240.48 492.4,242.38 492.75,240.87 493.1,242.15 493.45,241.78 493.8,242.01 493.85,241.24 494.15,242.12 494.5,241.8 494.85,243.18 495.2,241.93 495.55,242.54 495.9,242.11 496.25,243.06 496.35,241.69 496.6,242.72 496.95,242.08 497.3,243.2 497.65,242.13 498,243.18 498.35,242.52 498.7,243.97 498.85,243.2 499.05,244.07 499.4,243.3 499.75,243.73 500.1,243.37 500.45,244.69 500.8,243.96 501.15,244.08 501.34,243.07 501.5,244.79 501.85,244.03 502.2,244.54 502.55,244.33 502.9,244.96 503.25,244.57 503.6,245.51 503.84,244.68 503.95,245.49 504.3,243.85 504.65,246.44 505,244.62 505.35,245.61 505.7,245 506.05,246.1 506.34,245.56 506.4,246.11 506.75,245.42 507.1,246.03 507.45,245.73 507.8,246.65 508.15,245.67 508.5,246.96 508.83,246.26 508.85,246.57 509.2,246.25 509.55,246.63 509.9,246.27 510.25,246.9 510.6,246.3 510.95,247.11 511.3,246.84 511.33,247.47 511.65,246.61 512,247.61 512.35,247 512.7,247.77 513.05,247.35 513.4,248.39 513.75,247.27 513.82,248.02 514.1,247.61 514.45,248.24 514.8,247.96 515.15,248.16 515.5,247.12 515.85,248.78 516.2,247.88 516.32,249.41 516.55,248.36 516.9,249 517.25,248.4 517.6,248.76 517.95,247.8 518.3,249.34 518.65,248.76 518.82,249.77 519,248.47 519.35,249.8 519.7,249.25 520.05,249.71 520.4,248.39 520.75,249.81 521.1,249.05 521.31,249.84 521.45,249.59 521.8,250.07 522.15,249.78 522.5,250.72 522.85,249.57 523.2,249.99 523.55,249.74 523.81,250.33 523.9,249.99 524.25,250.42 524.6,250.22 524.95,250.41 525.3,250.09 525.65,250.49 526,249.63 526.31,250.73 526.35,249.86 526.7,250.79 527.05,250.59 527.4,251.74 527.75,250.34 528.1,251.3 528.45,250.73 528.8,251.29 528.8,250.07 529.15,251.11 529.5,250.65 529.85,252.03 530.2,250.58 530.55,251.49 530.9,250.8 531.25,252.15 531.3,251.15 531.6,251.94 531.95,250.93 532.3,252.48 532.65,251.63 533,252.62 533.35,252.19 533.7,253.81 533.8,251.56 534.05,252.86 534.4,252.38 534.75,253.16 535.1,252.36 535.45,253.22 535.8,252.03 536.15,252.96 536.29,252.17 536.5,253.44 536.85,251.55 537.2,253.25 537.55,253.11 537.9,253.34 538.25,253.23 538.6,253.51 538.79,253.21 538.95,254.21 539.3,252.83 539.65,253.9 540,253.21 540.35,254.25 540.7,253.51 541.05,253.98 541.28,253.81 541.4,253.84 541.75,253.46 542.1,255.42 542.45,254.02 542.8,254.87 543.15,254.3 543.5,254.43 543.78,254.04 543.85,255 544.2,254.09 544.55,254.65 544.9,254.53 545.25,255.01 545.6,253.86 545.95,255.13 546.28,253.62 546.3,256.53 546.65,254.61 547,256.24 547.35,254.79 547.7,255.19 548.05,254.22 548.4,255.56 548.75,255.16 548.77,255.53 549.1,254.39 549.45,255.88 549.8,255.52 550.15,255.69 550.5,255.69 550.85,256.51 551.2,255.39 551.27,255.88 551.55,255.86 551.9,256.21 552.25,256.04 552.6,256.83 552.95,255.72 553.3,256.52 553.65,255.89 553.77,256.97 554,256.09 554.35,256.54 554.7,255.22 555.05,257.54 555.4,256.3 555.75,256.83 556.1,256.31 556.26,256.94 556.45,256.77 556.8,256.97 557.15,256.81 557.5,257.36 557.85,257.26 558.2,257.63 558.55,256.87 558.76,258.21 558.9,257.12 559.25,258.76 559.6,257.67 559.95,258.1 560.3,256.65 560.65,258.71 561,257.87 561.26,258.56 561.35,258.25 561.7,259.34 562.05,258.04 562.4,258.76 562.75,258.26 563.1,259.45 563.45,258.33 563.8,259.97 564.15,258.56 564.5,259.64 564.85,259.26 565,259.53 565.2,258.88 565.55,259.57 565.9,259.54 566.25,260.15 566.6,259.11 566.95,260.28 567.3,259.97 567.65,260.86 568,260.24 568.35,260.81 568.7,260.04 568.92,260.81 569.05,260.64 569.4,261.25 569.75,260.79 570.1,261.19 570.45,260.32 570.8,261.69 571.15,260.26 571.5,261.65 571.85,261.4 572.2,262.03 572.55,260.71 572.9,262.38 573.25,260.74 573.6,262.15 573.91,260.94 573.95,262.55 574.3,260.93 574.65,262.65 575,261.56 575.35,261.99 575.7,261.56 576.05,262.11 576.4,261.59 576.75,262.87 577.1,261.76 577.45,262.45 577.8,261.22 578.15,262.46 578.5,261.82 578.85,262.77 578.91,261.77 579.2,263.16 579.55,262.12 579.9,262.82 580.25,262.39 580.6,263.04 580.95,261.69 581.3,262.66 581.65,261.32 582,263.22 582.35,262.45 582.7,263.49 583.05,262.83 583.4,263.75 583.75,262.97 583.9,263.5 584.1,262.2 584.45,263.31 584.8,262.94 585.15,263.75 585.5,262.7 585.85,263.64 586.2,263.1 586.55,263.83 586.9,262.92 587.25,263.77 587.6,263.35 587.95,263.59 588.3,263.47 588.65,264.12 588.89,263.52 589,263.99 589.35,263.78 589.7,264.37 590.05,263.54 590.4,264.22 590.75,263.9 591.1,264.88 591.45,264.02 591.8,265.15 592.15,263.8 592.5,264.75 592.85,264.21 593.2,264.97 593.55,264.19 593.88,264.61 593.9,263.9 594.25,265.02 594.6,263.88 594.95,265.48 595.3,264.84 595.65,265.16 596,264.9 596.35,265.44 596.7,264.82 597.05,265.46 597.4,265.3 597.75,266.13 598.1,265.04 598.45,266.09 598.8,265.16 598.88,265.73 599.15,264.87 599.5,265.89 599.85,265.5 600.2,265.76 600.55,265.64 600.9,266.5 601.25,265.24 601.6,266.44 601.95,265.11 602.3,266.79 602.65,265.9 603,266.57 603.35,265.92 603.7,266.45 603.87,265.48 604.05,266.89 604.4,266.35 604.75,267.01 605.1,266.13 605.45,267.04 605.8,266.28 606.15,267.04 606.5,265.98 606.85,266.89 607.2,266.6 607.55,267.75 607.9,266.14 608.25,267.86 608.6,266.84 608.86,267.25 608.95,266.92 609.3,267.31 609.65,266.37 610,268.18 610.35,266.58 610.7,267.95 611.05,267.23 611.4,268.19 611.75,266.47 612.1,267.66 612.45,267.15 612.8,268.25 613.15,266.98 613.5,268.06 613.85,267.35 613.85,268.21 614.2,267.96 614.55,268.43 614.9,267.66 615.25,268.6 615.6,268.25 615.95,268.31 616.3,267.63 616.65,268.97 617,267.93 617.35,269.34 617.7,268.15 618.05,269.11 618.4,268.49 618.75,268.68 618.85,268.33 619.1,268.97 619.45,268.21 619.8,269.28 620.15,268.21 620.5,269.24 620.85,268.11 621.2,269.29 621.55,268.18 621.9,269.75 622.25,268.83 622.6,269.53 622.95,269.09 623.3,269.5 623.65,268.84 623.84,270.26 624,269.23 624.35,269.58 624.7,269.33 625.05,269.7 625.4,269.44 625.75,270.04 626.1,268.83 626.34,270.03 626.45,268.94 626.8,270.26 627.15,269.04 627.5,269.07 627.85,268.06 628.2,268.7 628.33,267.96 628.55,268.77 628.9,268 629.25,269.09 629.6,267.91 629.95,269.34 630.08,268.73 630.3,269.47 630.65,269.02 631,269.64 631.35,269.03 631.7,269.73 632.05,269.31 632.4,269.99 632.58,269.61 632.75,270.42 633.1,269.8 633.45,270.32 633.8,268.57 634.15,270.6 634.5,269.4 634.85,270.86 635.07,270.02 635.2,271 635.55,268.14 635.9,267.88 636.25,266.14 636.32,266.45 636.6,263.87 636.95,263.75 637.3,261.55 637.57,260.48 637.65,260.15 638,261.04 638.35,260.74 638.7,261.57 638.82,260.85 639.05,262.22 639.4,260.81 639.75,261.88 640.07,261.7 640.1,262.46 640.45,261.87 640.8,262.98 641.15,262.55 641.31,263.51 641.5,262.55 641.85,262.93 642.2,262.95 642.55,263.59 642.56,262 642.9,263.72 643.25,263.15 643.6,263.72 643.81,263.37" fill="none" stroke="#0072BD" stroke-width="1.6" stroke-linejoin="round" stroke-linecap="round"/>
<text x="396.1" y="306.8" font-size="12.0" fill="#262626" text-anchor="middle">0</text>
<text x="436" y="306.8" font-size="12.0" fill="#262626" text-anchor="middle">100</text>
<text x="475.9" y="306.8" font-size="12.0" fill="#262626" text-anchor="middle">200</text>
<text x="515.8" y="306.8" font-size="12.0" fill="#262626" text-anchor="middle">300</text>
<text x="555.7" y="306.8" font-size="12.0" fill="#262626" text-anchor="middle">400</text>
<text x="595.6" y="306.8" font-size="12.0" fill="#262626" text-anchor="middle">500</text>
<text x="635.5" y="306.8" font-size="12.0" fill="#262626" text-anchor="middle">600</text>
<text x="675.4" y="306.8" font-size="12.0" fill="#262626" text-anchor="middle">700</text>
<text x="390.9" y="294.7" font-size="12.0" fill="#262626" text-anchor="end">3</text>
<text x="390.9" y="261.66" font-size="12.0" fill="#262626" text-anchor="end">3.5</text>
<text x="390.9" y="228.62" font-size="12.0" fill="#262626" text-anchor="end">4</text>
<text x="390.9" y="195.58" font-size="12.0" fill="#262626" text-anchor="end">4.5</text>
<text x="536.65" y="324.3" font-size="13.17" fill="#262626" text-anchor="middle">Time (s)</text>
<text transform="translate(366.7,238.55) rotate(-90)" font-size="13.17" fill="#262626" text-anchor="middle">SCR (µS)</text>
<text transform="translate(535.45,183.7) scale(1,1.05)" font-size="13.0" font-weight="bold" fill="#000" text-anchor="middle">ID_004</text>
<rect x="28.5" y="346.6" width="279.7" height="101.5" fill="none" stroke="#4a4a4a" stroke-width="1"/>
<path d="M28.5,448.1v-3.1M28.5,346.6v3.1M75.12,448.1v-3.1M75.12,346.6v3.1M121.73,448.1v-3.1M121.73,346.6v3.1M168.35,448.1v-3.1M168.35,346.6v3.1M214.97,448.1v-3.1M214.97,346.6v3.1M261.58,448.1v-3.1M261.58,346.6v3.1M308.2,448.1v-3.1M308.2,346.6v3.1M28.5,439.38h3.1M308.2,439.38h-3.1M28.5,392.99h3.1M308.2,392.99h-3.1M28.5,346.6h3.1M308.2,346.6h-3.1" stroke="#4a4a4a" stroke-width="1" fill="none"/>
<polyline points="28.58,396.56 29.3,400.47 29.38,400.93 30.12,403.07 30.18,403.16 30.64,401.59 30.98,396.27 31.15,393.33 31.67,397.62 31.78,398.27 32.39,403.33 32.58,403.5 33.38,406.24 33.42,406.09 34.18,408.31 34.25,408.28 34.98,401.65 35.07,400.49 35.59,395.63 35.78,396.34 36,398.23 36.58,391.42 36.62,391.32 37.13,395.37 37.38,397.38 37.86,400.56 38.18,402.27 38.89,404.68 38.98,405.09 39.78,407.82 39.92,408.37 40.58,409.64 41.38,411.44 41.46,411.23 41.98,406.1 42.18,401.33 42.49,394.49 42.98,400.06 43.01,400.71 43.73,406.75 43.78,407.09 44.58,409.39 45.07,410.99 45.38,411.32 46.18,412.94 46.62,413.37 46.98,414.11 47.78,414.89 48.58,416.13 48.68,416.08 49.38,417.1 50.18,417.93 50.74,418.77 50.98,418.68 51.78,420.3 52.58,420.92 52.8,421.28 53.38,421.98 54.18,423.31 54.66,423.66 54.98,420.58 55.38,416.04 55.78,411.42 55.9,409.84 56.41,411.21 56.58,409.24 57.38,401.34 57.44,400.41 58.16,407.13 58.18,406.79 58.98,412.91 58.99,412.93 59.78,414.78 60.54,416.01 60.58,416.4 61.38,417.54 62.08,419.21 62.18,419.32 62.98,421.01 63.63,421.99 63.78,421.52 64.35,417.47 64.58,418.3 64.97,418.74 65.38,421.52 65.69,423.19 66.18,419.17 66.41,417 66.98,414.01 67.24,412.39 67.78,414.21 68.06,415 68.47,414.09 68.58,414.5 69.3,418.23 69.38,418.46 70.18,421.69 70.33,422.21 70.98,423.75 71.78,425.01 71.88,425.51 72.58,425.98 73.38,426.89 73.42,426.73 74.18,427.3 74.97,427.37 74.98,427.64 75.78,428.04 76.52,429.07 76.58,428.96 77.38,430.08 77.55,429.84 78.18,430.78 78.42,430.47 78.98,431.12 79.78,431.48 80.58,432.32 80.92,432.2 81.38,432.66 82.18,433.03 82.98,433.58 83.42,433.53 83.78,433.98 84.58,434.16 85.38,434.59 85.91,434.67 86.18,435.09 86.98,435.37 87.78,436.35 88.41,436.79 88.58,437.02 89.38,437.58 89.91,438.24 90.18,434.65 90.41,431.91 90.98,426.74 91.4,423.24 91.78,424.82 92.4,428.08 92.58,428.22 93.38,429.92 93.9,430.49 94.18,430.91 94.98,431.42 95.4,432.03 95.78,432.02 96.58,432.81 97.15,433.02 97.38,433.47 98.18,434.04 98.89,434.84 98.98,434.57 99.78,435.51 100.58,435.85 100.89,436.41 101.38,436.45 102.14,438.26 102.18,438 102.98,438.95 103.78,439.32 103.89,439.84 104.58,440.27 105.38,441.16 105.88,441.28 106.18,441.36 106.98,441.49 107.78,441.7 108.38,441.5 108.58,441.98 109.38,441.62 110.18,441.81 110.88,441.77 110.98,441.97 111.78,442.11 112.58,442.66 113.37,442.86 113.38,443.2 114.18,443.32 114.98,443.91 115.78,444.21 115.87,444.4 116.58,444.55 117.38,445.09 118.18,445.24 118.36,445.63 118.98,445.44 119.78,445.54 120.58,445.48 120.86,445.57 121.38,443.76 122.11,441.32 122.18,440.88 122.86,440.05 122.98,440.16 123.78,442.93 123.86,442.87 124.58,443.78 125.38,443.89 125.85,444.28 126.18,444.21 126.98,444.69 127.78,444.64 128.35,444.95 128.58,444.82 129.38,445.68 130.18,445.77 130.35,446.33 130.98,446.22 131.35,446.78 131.78,444.59 132.34,441.92 132.58,440.15 132.84,438.87 133.38,440.19 133.84,441.85 134.18,442.09 134.98,442.99 135.78,443.68 135.84,444.02 136.58,444.23 137.38,445.13 138.18,445.34 138.34,445.59 138.98,445.44 139.78,445.69 140.33,445.49 140.58,444.48 141.33,440.49 141.38,440.32 142.08,436.19 142.18,436.68 142.98,438.31 143.33,439.29 143.78,436.97 144.58,433.12 144.58,432.98 145.33,430.58 145.38,430.81 146.18,434.88 146.32,435.54 146.98,436.77 147.78,437.89 147.82,438.07 148.58,438.78 148.82,439.29 149.38,437.3 150.18,435.25 150.32,434.51 150.98,434.59 151.32,434.27 151.78,436.21 152.32,437.85 152.58,438.45 153.38,439.27 153.81,440.04 154.18,440.12 154.98,441.04 155.78,441.67 155.81,442 156.58,441.85 157.38,442.22 157.81,442.18 158.18,441.44 158.98,439.01 159.31,438.37 159.78,439.5 160.3,441.42 160.58,441.24 161.38,442.08 162.05,442.18 162.18,442.41 162.98,442.59 163.78,443.37 164.55,443.58 164.58,443.8 165.38,444 166.18,444.47 166.98,444.64 167.04,444.88 167.78,444.47 168.58,444.87 168.79,444.71 169.38,443.04 169.79,441.73 170.18,443.04 170.79,444.23 170.98,444.56 171.78,444.73 172.58,445.28 173.28,445.36 173.38,445.68 174.18,445.52 174.98,446.37 175.78,446.55 175.78,446.78 176.53,441.74 176.58,441.1 177.38,429.05 177.53,426.92 178.18,413.81 178.53,406.9 178.98,393.05 179.28,383.95 179.78,390.4 180.27,396.9 180.58,400.18 181.27,408.28 181.38,408.61 182.18,412.7 182.77,415.48 182.98,416.58 183.78,419.11 184.52,421.87 184.58,421.82 185.38,424.07 186.18,426.04 186.27,426.34 186.98,427.24 187.78,428.68 188.26,429.24 188.58,427 189.01,422.95 189.38,417.38 189.76,411.28 190.18,413.69 190.76,416.7 190.98,418.4 191.78,422.73 192.01,424.53 192.58,425.24 193.38,426.68 193.75,427.17 194.18,427.76 194.98,428.4 195.75,429.37 195.78,429.3 196.58,429.71 197,429.69 197.38,429.41 197.46,429.02 198.18,429.84 198.98,430.31 199.78,431.01 199.96,431.04 200.58,431.59 201.38,432.01 202.18,432.86 202.45,432.74 202.98,433.78 203.78,434.31 204.58,435.21 204.95,435.22 205.38,436.11 206.18,436.71 206.2,436.82 206.98,431.29 207.45,428.16 207.78,425.42 208.19,423.09 208.58,423.41 209.19,424.48 209.38,425.25 209.94,429.36 210.18,429.72 210.98,431.51 211.78,432.56 211.94,433.09 212.58,433.95 213.38,435.18 213.69,435.3 214.18,436.11 214.98,436.81 215.43,437.51 215.78,437.42 216.58,438.04 216.68,437.8 217.38,431.17 217.43,430.51 217.93,426.89 218.18,427.61 218.93,430.57 218.98,430.65 219.78,432.79 219.93,433 220.58,433.75 221.18,433.72 221.38,434.09 222.18,435.03 222.42,435.55 222.98,435.75 223.42,436.33 223.78,433.54 224.42,429.35 224.58,424.76 225.38,402.01 225.42,400.51 226.18,384.59 226.42,379.4 226.98,367 227.42,356.81 227.78,362.86 228.41,373.17 228.58,375.37 229.38,385.16 229.41,385.76 230.16,394.37 230.18,394.77 230.98,401.51 231.16,403.4 231.66,404.16 231.78,401.78 232.16,393.11 232.58,388.09 232.66,386.76 233.38,396.56 233.41,396.68 234.18,402.83 234.41,404.3 234.98,406.11 235.65,407.95 235.78,408.07 236.58,407.1 236.9,406.87 237.38,405.35 237.9,403.86 238.18,404.96 238.9,408.23 238.98,408.27 239.78,410.65 240.4,412.3 240.58,412.83 241.38,414.3 242.18,415.99 242.39,416.31 242.98,417.29 243.78,418.04 244.39,419.16 244.58,418.51 245.38,418.05 246.14,417.27 246.18,417.35 246.89,416.16 246.98,416.65 247.78,419.32 247.89,420.04 248.58,421.2 249.38,423.18 249.38,422.94 250.18,424.24 250.63,424.56 250.98,420.39 251.63,411.71 251.78,409.9 252.58,398.72 252.63,398.51 253.38,399.91 253.63,400.62 254.18,408.66 254.38,411.88 254.98,405.73 255.38,401.95 255.78,402.35 256.37,403.16 256.58,402.94 257.37,402.49 257.38,402.33 258.12,410.79 258.18,410.7 258.98,413.28 259.37,414.18 259.78,415.72 260.58,417.7 261.12,419.49 261.38,419.87 262.18,421.61 262.86,423.06 262.98,423.25 263.78,424.2 264.58,425.28 264.86,425.47 265.38,426.29 266.18,426.73 266.98,427.96 267.36,428 267.78,428.45 268.58,428.84 269.38,429.62 269.85,429.65 270.18,430.22 270.98,430.87 271.78,431.9 272.35,432.3 272.58,432.7 273.38,432.83 274.18,433.99 274.85,434.12 274.98,434.44 275.78,434.59 276.09,434.87 276.58,433.55 277.34,431.82 277.38,431.67 278.09,434.45 278.18,434.24 278.98,435.02 279.78,435.45 279.84,435.63 280.58,435.99 281.38,436.68 281.84,436.77 282.18,436.2 282.98,434.44 283.08,434.5 283.78,435.61 284.08,436.38 284.58,436.33 285.38,437.66 286.08,437.96 286.18,438.17 286.98,438.29 287.78,438.97 288.58,439.18 288.58,439.49 289.38,439.47 290.18,440.59 290.98,441.15 291.07,441.33 291.78,441.59 292.58,442.38 293.38,442.84 293.57,443.06 294.18,443.43 294.98,444.08 295.78,444.56 296.07,444.8 296.58,445.26 296.81,445.56 297.38,440.54 297.81,436.95 298.18,433.96 298.56,431.38 298.98,433.64 299.31,435.57 299.78,436.92 300.31,438.98" fill="none" stroke="#0072BD" stroke-width="1.25" stroke-linejoin="round" stroke-linecap="round"/>
<text x="28.5" y="464.5" font-size="12.0" fill="#262626" text-anchor="middle">0</text>
<text x="75.12" y="464.5" font-size="12.0" fill="#262626" text-anchor="middle">100</text>
<text x="121.73" y="464.5" font-size="12.0" fill="#262626" text-anchor="middle">200</text>
<text x="168.35" y="464.5" font-size="12.0" fill="#262626" text-anchor="middle">300</text>
<text x="214.97" y="464.5" font-size="12.0" fill="#262626" text-anchor="middle">400</text>
<text x="261.58" y="464.5" font-size="12.0" fill="#262626" text-anchor="middle">500</text>
<text x="308.2" y="464.5" font-size="12.0" fill="#262626" text-anchor="middle">600</text>
<text x="23.3" y="443.68" font-size="12.0" fill="#262626" text-anchor="end">3</text>
<text x="23.3" y="397.29" font-size="12.0" fill="#262626" text-anchor="end">4</text>
<text x="23.3" y="350.9" font-size="12.0" fill="#262626" text-anchor="end">5</text>
<text x="169.25" y="482" font-size="13.17" fill="#262626" text-anchor="middle">Time (s)</text>
<text transform="translate(9.3,395.95) rotate(-90)" font-size="13.17" fill="#262626" text-anchor="middle">SCR (µS)</text>
<text transform="translate(168.05,340.7) scale(1,1.05)" font-size="13.0" font-weight="bold" fill="#000" text-anchor="middle">ID_043</text>
<rect x="396.1" y="346.6" width="279.3" height="101.5" fill="none" stroke="#4a4a4a" stroke-width="1"/>
<path d="M396.1,448.1v-3.1M396.1,346.6v3.1M436,448.1v-3.1M436,346.6v3.1M475.9,448.1v-3.1M475.9,346.6v3.1M515.8,448.1v-3.1M515.8,346.6v3.1M555.7,448.1v-3.1M555.7,346.6v3.1M595.6,448.1v-3.1M595.6,346.6v3.1M635.5,448.1v-3.1M635.5,346.6v3.1M675.4,448.1v-3.1M675.4,346.6v3.1M396.1,440.58h3.1M675.4,440.58h-3.1M396.1,393.59h3.1M675.4,393.59h-3.1M396.1,346.6h3.1M675.4,346.6h-3.1" stroke="#4a4a4a" stroke-width="1" fill="none"/>
<polyline points="396.5,371.83 396.8,369.66 397.1,371.4 397.4,366.41 397.7,369.18 397.74,364.15 398,367 398.3,364.87 398.6,368.54 398.9,363.23 398.99,366.42 399.2,362.07 399.5,366.78 399.8,364.93 400.1,368.2 400.24,362.89 400.4,368.59 400.7,366.97 401,368.43 401.3,366.43 401.49,370.66 401.6,369.25 401.9,372.52 402.2,371.97 402.5,375.48 402.74,371.85 402.8,375.72 403.1,374.65 403.4,376 403.7,375.67 403.99,379.17 404,377.89 404.3,378.85 404.6,379.35 404.9,382.59 405.2,380.16 405.23,383.13 405.5,381.29 405.8,384.3 406.1,383.3 406.4,385.45 406.48,383.25 406.7,389.24 407,386.11 407.3,388.79 407.6,386.5 407.73,389.07 407.9,386.31 408.2,393.85 408.5,387.96 408.8,393.45 408.98,386.64 409.1,391.76 409.4,388.02 409.7,391.99 410,389.71 410.23,392.17 410.3,390.59 410.6,394.12 410.9,390.62 411.2,394.89 411.47,393.36 411.5,394.68 411.8,388.69 412.1,392.98 412.4,391.47 412.7,393.72 412.72,390.91 413,395.08 413.3,391.78 413.6,395.91 413.9,392.77 413.97,396.9 414.2,395.3 414.5,396.39 414.8,394.9 415.1,399.16 415.22,393.51 415.4,399.2 415.7,392.35 416,394.43 416.3,392.99 416.47,395.65 416.6,391.81 416.9,393.37 417.2,390.29 417.5,392.83 417.72,388.85 417.8,391.89 418.1,389.73 418.4,397.2 418.7,388.02 418.96,396.21 419,394.57 419.3,396 419.6,395.22 419.9,398.53 420.2,395.43 420.21,398.23 420.5,394.74 420.8,398.19 421.1,392.58 421.4,396.84 421.46,393.44 421.7,395.42 422,392.25 422.3,393.79 422.6,391.33 422.71,392.77 422.9,392.37 423.2,394.4 423.5,392.84 423.8,396.05 423.96,395.31 424.1,397.6 424.4,395.23 424.7,397.75 425,397.06 425.2,402.05 425.3,397.87 425.6,401.25 425.9,394.08 426.2,401.16 426.45,398.48 426.5,401.37 426.8,398.03 427.1,400.5 427.4,400.9 427.7,403.43 428,395.17 428.3,405.31 428.6,397.82 428.9,403.27 428.95,400.37 429.2,403.05 429.5,397.62 429.8,405.73 430.1,402.92 430.4,405.88 430.7,402.74 431,406.3 431.3,400.2 431.45,405.15 431.6,404.13 431.9,406.65 432.2,405.52 432.5,406.24 432.8,404.15 433.1,409.06 433.4,401.09 433.7,406.14 433.94,403.84 434,406.47 434.3,403.49 434.6,406.68 434.9,405.55 435.2,407.75 435.5,406.8 435.8,410.18 436.1,408.35 436.4,412.63 436.44,406.33 436.7,409.52 437,408.45 437.3,416.07 437.6,406.14 437.9,412.94 438.2,409.04 438.5,413.83 438.8,409.71 438.93,413.38 439.1,410.48 439.4,412.65 439.7,409.78 440,411.23 440.3,408.83 440.6,411.44 440.9,410.32 441.2,413.46 441.43,410.19 441.5,414.72 441.8,408.37 442.1,412.88 442.4,410.89 442.7,412.83 443,410.66 443.3,411.93 443.6,409.89 443.9,413.39 443.93,410.32 444.2,412.83 444.5,410.61 444.8,411.31 445.1,408.18 445.18,413.03 445.4,410.53 445.7,412.85 446,411.14 446.3,416.02 446.42,410.61 446.6,414.99 446.9,413.11 447.2,415.06 447.5,413.82 447.8,415.73 448.1,413.33 448.4,416.01 448.7,414.52 448.92,415.88 449,414.89 449.3,414.96 449.6,413.77 449.9,416.37 450.2,415.4 450.5,419.24 450.8,415.91 451.1,416.9 451.4,416.02 451.42,420.24 451.7,416.1 452,417.62 452.3,415.59 452.6,420.28 452.9,416.08 453.2,417.28 453.5,416.51 453.8,419.12 453.91,416.32 454.1,420.41 454.4,417.15 454.7,419.39 455,418.94 455.3,422.8 455.6,419.54 455.9,420.77 456.2,420.89 456.41,422.5 456.5,421.16 456.8,422.94 457.1,421.87 457.4,423.95 457.7,418.56 458,424.06 458.3,423.99 458.6,427.13 458.9,422.35 458.91,424.79 459.2,424.12 459.5,433.64 459.8,423.52 460.1,425.77 460.4,424.4 460.7,427.47 461,423.93 461.3,425.33 461.4,425.29 461.6,429.13 461.9,423.43 462.2,425.95 462.5,424.53 462.8,427.48 463.1,426.38 463.4,432.1 463.7,427.91 463.9,430.64 464,427.1 464.3,429.42 464.6,428.38 464.9,429.92 465.2,427.95 465.5,430.07 465.8,428.64 466.1,430.82 466.39,427.33 466.4,429.77 466.7,429.08 467,430.83 467.3,430.14 467.6,431.42 467.9,427.91 468.2,435.64 468.5,429.06 468.8,431.6 468.89,431.53 469.1,431.95 469.4,430.45 469.7,432.05 470,430.59 470.3,432.22 470.6,426.4 470.9,435.05 471.2,431.81 471.39,433.86 471.5,431.81 471.8,433.18 472.1,430.88 472.4,439.34 472.7,431.27 473,434.62 473.3,426.28 473.6,434.82 473.88,431.87 473.9,435.06 474.2,433.7 474.5,437.04 474.8,433 475.1,436.09 475.4,434.18 475.7,436.61 476,433.69 476.3,435.07 476.38,434.62 476.6,437.5 476.9,432.75 477.2,435.93 477.5,433.07 477.8,435.08 478.1,433.94 478.4,436.57 478.7,433.8 478.88,434.67 479,432.73 479.3,435.71 479.6,432.18 479.9,435.06 480.12,429.32 480.2,433.04 480.5,427.41 480.8,436.12 481.1,430.88 481.37,436.38 481.4,434.06 481.7,436.5 482,429.95 482.3,434.73 482.6,434.36 482.9,434.98 483.2,434.87 483.5,435.36 483.8,431.55 483.87,435.92 484.1,431.45 484.4,436.81 484.7,434.89 485,436.27 485.3,433.52 485.6,437.64 485.9,434.03 486.2,437.49 486.36,434.33 486.5,436.99 486.8,436.67 487.1,437.43 487.4,435.07 487.7,439.12 488,435.86 488.3,438.81 488.6,435.27 488.86,439.86 488.9,437.72 489.2,443.61 489.5,437.09 489.8,438.82 490.1,434.28 490.4,443.33 490.7,436.58 491,441.78 491.3,438.95 491.36,442.8 491.6,440.06 491.9,441.42 492.2,438.08 492.5,441.35 492.8,439.67 493.1,442.68 493.35,440.84 493.4,444.85 493.7,439.7 494,443.95 494.3,442.68 494.6,449.22 494.9,438.66 495.1,445.49 495.2,444.72 495.5,445.15 495.8,443.21 496.1,447.18 496.35,441.74 496.4,442.49 496.7,441.5 497,441.36 497.3,437.73 497.6,442.05 497.6,439.24 497.9,439.39 498.2,436.29 498.5,441.43 498.8,436.4 498.85,441.26 499.1,436.83 499.4,439.01 499.7,436.26 500,440.46 500.09,436.83 500.3,439.6 500.6,436.72 500.9,436.21 501.2,431.44 501.34,438.38 501.5,433.72 501.8,437.72 502.1,432.83 502.4,435.27 502.59,434.03 502.7,439.52 503,436.69 503.3,439.1 503.6,436.54 503.84,438.9 503.9,435.96 504.2,440.94 504.5,435.72 504.8,440.72 505.09,435.39 505.1,436.68 505.4,434.31 505.7,439.31 506,432.66 506.3,436.85 506.34,434.19 506.6,436.55 506.9,435.75 507.2,441.15 507.5,437.57 507.58,440.2 507.8,436.87 508.1,440.56 508.4,439.46 508.7,441.64 508.83,437.93 509,438.98 509.3,433.96 509.58,433.51 509.6,431.6 509.9,432.91 510.2,425.25 510.5,425.96 510.8,421.4 510.83,424.78 511.1,422.53 511.4,427.41 511.7,425.11 512,429.54 512.08,428.15 512.3,430.42 512.6,428.84 512.9,434.59 513.2,432.9 513.33,434.22 513.5,430.91 513.8,434.71 514.1,434.19 514.4,436.43 514.7,434.93 515,437.85 515.07,435.02 515.3,437.41 515.6,436.38 515.9,438.85 516.2,438.15 516.32,441.99 516.5,436.81 516.8,438.91 517.1,437.92 517.4,438.65 517.57,431.67 517.7,437.05 518,433.37 518.3,433.84 518.6,429.28 518.82,429.16 518.9,426.12 519.2,427.11 519.5,425.2 519.57,426.54 519.8,425.43 520.1,432.01 520.4,429.38 520.56,432.14 520.7,431.68 521,436.73 521.3,429.31 521.6,434.44 521.81,429.92 521.9,435.2 522.2,434.39 522.5,435.51 522.8,431.51 523.1,436.2 523.31,431.62 523.4,435.26 523.7,433.45 524,433.73 524.3,428.82 524.6,431.9 524.81,428.23 524.9,431.21 525.2,428.51 525.5,434.13 525.8,429.23 526.1,433.58 526.31,428.62 526.4,432.79 526.7,428.82 527,434.22 527.3,428.3 527.6,435.8 527.9,431.81 528.2,437.07 528.3,432.77 528.5,434.79 528.8,432.75 529.1,433.43 529.4,430.62 529.7,431.55 530,428.89 530.05,432.35 530.3,427.59 530.6,430.4 530.8,427.35 530.9,432.25 531.2,426.25 531.5,430.51 531.8,427.69 531.8,430.52 532.1,430.02 532.4,431.27 532.7,429.99 533,436.64 533.3,432.51 533.3,435.88 533.6,432.24 533.9,434.18 534.2,434.08 534.5,435.5 534.8,434.84 535.04,436.37 535.1,434.15 535.4,438.81 535.7,433.86 536,437.67 536.3,436.28 536.6,436.64 536.9,435.12 537.2,439.78 537.5,434.5 537.54,437.91 537.8,433.9 538.1,441.06 538.4,436.79 538.7,440.21 539,437 539.3,439.3 539.6,437.14 539.9,438.07 540.04,436.09 540.2,437.9 540.5,436.84 540.8,438.25 541.1,435.19 541.4,442.04 541.7,433.62 542,438.81 542.3,436.62 542.53,439.51 542.6,435.76 542.9,437.54 543.2,436.21 543.5,439.74 543.78,435.96 543.8,436.89 544.1,431.4 544.4,436.38 544.7,432.02 545,432.53 545.03,428.4 545.3,433.15 545.6,427.96 545.9,432.13 546.2,426.89 546.28,427.3 546.5,425.38 546.8,429.76 547.1,423.41 547.4,426.77 547.53,422.83 547.7,426.3 548,424.56 548.3,428.54 548.6,424.75 548.77,429.6 548.9,427.44 549.2,429.27 549.5,426.52 549.8,433 550.02,431.02 550.1,431.05 550.4,429.28 550.7,432.67 551,429.11 551.3,434.98 551.6,431.04 551.77,432.17 551.9,430.4 552.2,433.28 552.5,429.78 552.8,434.59 553.1,428.66 553.4,434.17 553.7,429.77 553.77,431.96 554,430.42 554.3,437.81 554.6,430.72 554.9,433.08 555.2,430.44 555.5,434.02 555.76,428.43 555.8,433.89 556.1,429.79 556.4,432.44 556.7,428.06 557,431.12 557.3,428.62 557.51,432.83 557.6,429.5 557.9,433.28 558.2,428.44 558.5,429.86 558.76,426.2 558.8,429.07 559.1,425.97 559.4,427.71 559.51,426.91 559.7,427.8 560,425.79 560.3,429.94 560.6,427.5 560.76,431.81 560.9,425.13 561.2,432.67 561.5,429.74 561.8,431.6 562.1,431.36 562.4,436.71 562.5,430.34 562.7,432.05 563,431.94 563.3,435.02 563.6,432.07 563.9,437.12 564.2,431.56 564.5,435.39 564.8,432.63 565,437.35 565.1,433.41 565.4,434.44 565.7,430.67 566,435 566.3,432.55 566.42,433.5 566.6,428.79 566.9,432.14 567.2,428.63 567.5,431.26 567.67,426.88 567.8,435.01 568.1,430.68 568.4,435.01 568.7,433.53 568.92,435.65 569,432.56 569.3,438.68 569.6,434.93 569.9,437.13 570.17,436.03 570.2,439.26 570.5,435.08 570.8,439.62 571.1,436.79 571.4,441.28 571.7,436.05 571.92,438.55 572,435.52 572.3,436.15 572.6,431.88 572.9,433.42 573.2,427.85 573.41,431.68 573.5,428.09 573.8,426.83 574.1,422.77 574.4,421.36 574.41,418.42 574.7,420.46 575,417.12 575.3,419.98 575.6,415.61 575.9,416.95 575.91,413.98 576.2,418.66 576.5,416.75 576.8,419.82 577.1,417.63 577.16,421.76 577.4,416.53 577.7,420.68 578,419.49 578.3,425.72 578.41,421.03 578.6,423.45 578.9,415.29 579.2,421.09 579.4,412.21 579.5,414.04 579.8,409.83 580.1,407.34 580.4,401.99 580.4,403.81 580.7,401.33 581,402.67 581.3,399.51 581.4,404.05 581.6,401.21 581.9,405.03 582.2,403.21 582.5,406.42 582.65,403.75 582.8,408.43 583.1,407.78 583.4,412.58 583.7,411.49 583.9,419.21 584,415.16 584.3,417.6 584.6,414.35 584.9,418.89 585.15,418.34 585.2,423.69 585.5,418.58 585.8,421.58 586.1,421.5 586.39,423.6 586.4,421.55 586.7,423.73 587,420.87 587.3,426.65 587.6,421.6 587.9,424.14 588.2,421.03 588.39,425.57 588.5,423.34 588.8,426.68 589.1,423.31 589.4,427.8 589.7,425.72 590,429.88 590.14,425.6 590.3,425.84 590.6,421.33 590.9,423.19 591.2,419.55 591.39,420.22 591.5,417.4 591.8,416.37 592.1,409.96 592.4,408.34 592.64,403.11 592.7,403.64 593,396.63 593.3,396.17 593.6,387.19 593.88,385.51 593.9,383.38 594.2,381.76 594.5,376.2 594.63,380.6 594.8,374.55 595.1,382.13 595.4,383.86 595.63,388.14 595.7,385.74 596,392.3 596.3,391.06 596.6,401.05 596.88,402.16 596.9,406.92 597.2,399.48 597.5,408 597.8,404.88 598.1,409.28 598.38,408.37 598.4,411.7 598.7,410.41 599,411.61 599.3,410.42 599.6,417.75 599.62,412.01 599.9,415.03 600.2,414.21 600.5,416.95 600.8,416.54 600.87,418.43 601.1,415.45 601.4,418.69 601.7,414 602,418.24 602.3,413.34 602.6,416.36 602.62,413.18 602.9,416.4 603.2,412.75 603.5,415.51 603.8,412.1 604.1,414.65 604.37,411.36 604.4,414.79 604.7,410.56 605,413.83 605.3,410.12 605.6,413.81 605.87,404.32 605.9,412.98 606.2,406.2 606.5,411.9 606.8,407.17 606.86,410.68 607.1,409.04 607.4,411.44 607.7,411.21 607.86,412.61 608,410.33 608.3,413.24 608.6,411.27 608.9,414.05 609.2,412.66 609.36,413.53 609.5,413.62 609.8,415.28 610.1,412.98 610.4,413.87 610.7,410.89 611,414.1 611.3,411.78 611.36,414.23 611.6,412.77 611.9,413.36 612.2,410.09 612.5,413.82 612.8,411.22 613.1,413.42 613.35,411.65 613.4,415.35 613.7,413.11 614,413.81 614.3,412.06 614.6,416.76 614.85,410.13 614.9,413.19 615.2,411.37 615.5,414.11 615.8,409.7 616.1,415.16 616.35,413.15 616.4,416.86 616.7,415.17 617,416.76 617.3,413.42 617.6,416.89 617.9,413.82 618.2,418.86 618.35,414.82 618.5,417.94 618.8,414.53 619.1,420.84 619.4,416.18 619.7,417.34 620,415.11 620.09,417.67 620.3,415.73 620.6,417.83 620.9,414.49 621.2,421.72 621.5,410.29 621.8,420 621.84,418.33 622.1,420.96 622.4,417.65 622.7,419.45 623,414.91 623.3,420.4 623.34,415.53 623.6,417.57 623.9,413.29 624.2,418.18 624.5,412.87 624.8,417.02 625.09,414.3 625.1,415.47 625.4,413.71 625.7,416.81 626,410.47 626.3,413.53 626.6,411.21 626.84,412.89 626.9,410.44 627.2,412.53 627.5,406.58 627.8,408.24 628.1,404.25 628.33,405.78 628.4,402.84 628.7,406.04 629,402.77 629.3,404.35 629.33,401.54 629.6,407.1 629.9,404.33 630.2,407.62 630.5,406.03 630.8,407.62 630.83,404.44 631.1,407.85 631.4,406.97 631.7,407.89 632,407.64 632.08,408.51 632.3,406.12 632.6,407.52 632.9,402.29 633.2,405.82 633.5,401.91 633.8,406.33 633.82,402.27 634.1,403.88 634.4,400.82 634.7,399.15 635,395.88 635.07,397.94 635.3,395 635.6,400.5 635.9,395.07 636.2,400.81 636.32,395.55 636.5,397.66 636.8,395.48 637.1,402.05 637.4,392.44 637.57,399.95 637.7,399.07 638,401.36 638.3,396.51 638.6,405.39 638.82,399.45 638.9,403.48 639.2,401.99 639.5,403.68 639.8,400.89 640.1,403.41 640.32,401.46 640.4,402.81 640.7,400.24 641,404.36 641.3,402.18 641.6,406.59 641.81,404.2 641.9,405.77 642.2,404.99 642.5,407.73 642.8,403.65 643.1,406.41 643.31,406.39 643.4,407.68 643.7,404.2 644,411.41 644.3,410.97 644.31,414.11 644.6,407.35 644.9,409.11 645.2,405.67 645.5,407.18 645.56,402.78 645.8,403.29 646.1,396.86 646.31,402.18 646.4,396.73 646.7,399.3 647,395.12 647.3,395.11 647.55,392.5 647.6,397.11 647.9,394.54 648.2,400.92 648.5,398.53 648.8,403.98 648.8,401.07 649.1,401.51 649.4,397.02 649.7,397.26 650,392.92 650.05,393.39 650.3,385.95 650.6,391.28 650.8,386.91 650.9,390.25 651.2,389.08 651.5,392.61 651.8,390.13 651.8,393.37 652.1,391.54 652.4,393 652.7,390.77 653,395.45 653.3,389.41 653.3,395.68 653.6,392.62 653.9,397.53 654.2,395.42 654.5,397.12 654.8,397.42 655.04,400.23 655.1,397.35 655.4,398.17 655.7,396.7 656,399.88 656.29,396.08 656.3,399.73 656.6,396.89 656.9,400.94 657.2,396.71 657.5,401.31 657.54,397.6 657.8,402.93 658.1,401.38 658.4,405.62 658.7,402.41 658.79,405.08 659,402.76 659.3,407 659.6,404.18 659.9,408.1 660.04,401.71 660.2,407.9 660.5,406.98 660.8,411.41 661.1,408.07 661.28,413.66 661.4,407.95 661.7,410.39 662,409.92 662.3,411.41 662.53,408.73 662.6,413.77 662.9,407.64 663.2,413.18 663.5,406.57 663.78,408.29 663.8,402.92 664.1,405.41 664.4,400.27 664.7,403.03 664.78,397.95 665,400.82 665.3,397.63 665.6,403.25 665.78,402.33 665.9,405.96 666.2,402.4 666.5,409.12 666.78,405.02 666.8,406.61 667.1,404.36 667.4,406.09 667.7,403.46 668,404.05 668.27,397.53 668.3,406.11 668.6,400.46 668.9,400.66 669.2,397.07 669.27,398.6 669.5,396.36 669.8,396.64 670.1,392.51 670.27,396.81 670.4,395.84 670.7,399.06 671,398.3 671.27,399.65 671.3,398.8 671.6,401.16 671.9,401.57 672.2,404.94 672.5,402.17 672.52,406.06" fill="none" stroke="#0072BD" stroke-width="1.8" stroke-linejoin="round" stroke-linecap="round"/>
<text x="396.1" y="464.5" font-size="12.0" fill="#262626" text-anchor="middle">0</text>
<text x="436" y="464.5" font-size="12.0" fill="#262626" text-anchor="middle">100</text>
<text x="475.9" y="464.5" font-size="12.0" fill="#262626" text-anchor="middle">200</text>
<text x="515.8" y="464.5" font-size="12.0" fill="#262626" text-anchor="middle">300</text>
<text x="555.7" y="464.5" font-size="12.0" fill="#262626" text-anchor="middle">400</text>
<text x="595.6" y="464.5" font-size="12.0" fill="#262626" text-anchor="middle">500</text>
<text x="635.5" y="464.5" font-size="12.0" fill="#262626" text-anchor="middle">600</text>
<text x="675.4" y="464.5" font-size="12.0" fill="#262626" text-anchor="middle">700</text>
<text x="390.9" y="444.88" font-size="12.0" fill="#262626" text-anchor="end">3</text>
<text x="390.9" y="397.89" font-size="12.0" fill="#262626" text-anchor="end">3.2</text>
<text x="390.9" y="350.9" font-size="12.0" fill="#262626" text-anchor="end">3.4</text>
<text x="536.65" y="482" font-size="13.17" fill="#262626" text-anchor="middle">Time (s)</text>
<text transform="translate(366.7,395.95) rotate(-90)" font-size="13.17" fill="#262626" text-anchor="middle">SCR (µS)</text>
<text transform="translate(535.45,340.7) scale(1,1.05)" font-size="13.0" font-weight="bold" fill="#000" text-anchor="middle">ID_047</text>
<text x="170.2" y="10.3" font-size="14.25" fill="#000" text-anchor="middle">Included in the analysis</text>
<text x="533.6" y="10.3" font-size="14.25" fill="#000" text-anchor="middle">Excluded from the analysis</text>
</svg></body></html>
